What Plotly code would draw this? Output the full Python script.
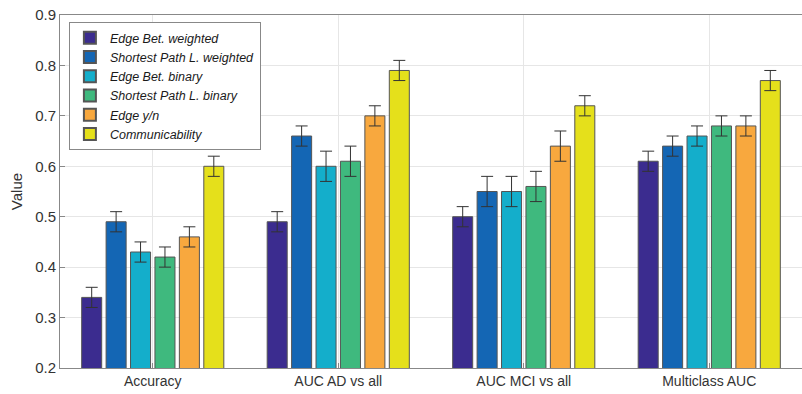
import plotly.graph_objects as go

categories = ["Accuracy", "AUC AD vs all", "AUC MCI vs all", "Multiclass AUC"]
series_names = ["Edge Bet. weighted", "Shortest Path L. weighted", "Edge Bet. binary",
                "Shortest Path L. binary", "Edge y/n", "Communicability"]
values = [
    [0.34, 0.49, 0.50, 0.61],
    [0.49, 0.66, 0.55, 0.64],
    [0.43, 0.60, 0.55, 0.66],
    [0.42, 0.61, 0.56, 0.68],
    [0.46, 0.70, 0.64, 0.68],
    [0.60, 0.79, 0.72, 0.77],
]
errors = [
    [0.02, 0.02, 0.02, 0.02],
    [0.02, 0.02, 0.03, 0.02],
    [0.02, 0.03, 0.03, 0.02],
    [0.02, 0.03, 0.03, 0.02],
    [0.02, 0.02, 0.03, 0.02],
    [0.02, 0.02, 0.02, 0.02],
]
colors = ["#3B2C8F", "#1466B4", "#14AECB", "#3FB97E", "#F8A83E", "#E5E01B"]

fig = go.Figure()
for name, v, e, c in zip(series_names, values, errors, colors):
    fig.add_trace(go.Bar(
        x=categories, y=v, name=name,
        marker=dict(color=c, line=dict(color="#555555", width=1)),
        error_y=dict(type="data", array=e, color="#333333", thickness=1, width=6),
    ))

fig.update_layout(
    width=802, height=394,
    margin=dict(l=60, r=0, t=15, b=26),
    paper_bgcolor="white", plot_bgcolor="white",
    barmode="group", bargap=0.21, bargroupgap=0.18,
    font=dict(family="Liberation Sans, Arial", color="#333333", size=14),
    legend=dict(
        x=0.012, y=0.98, xanchor="left", yanchor="top",
        bgcolor="white", bordercolor="#888888", borderwidth=1,
        font=dict(size=12.5, color="#1a1a1a", style="italic"),
        tracegroupgap=0, itemsizing="constant", itemwidth=30,
    ),
    showlegend=True,
)
fig.update_xaxes(
    range=[-0.5, 3.5], showgrid=True, gridcolor="#E6E6E6",
    showline=True, linecolor="#888888", mirror=True,
    ticks="inside", ticklen=5, tickcolor="#888888",
    tickfont=dict(size=14, color="#333333"),
)
fig.update_yaxes(
    range=[0.2, 0.9], dtick=0.1, tickformat=".1f",
    showgrid=True, gridcolor="#E6E6E6",
    showline=True, linecolor="#888888", mirror=True,
    ticks="inside", ticklen=5, tickcolor="#888888",
    tickfont=dict(size=15, color="#333333"),
    title=dict(text="Value", font=dict(size=15, color="#333333"), standoff=8),
)

fig.write_html("out.html")
